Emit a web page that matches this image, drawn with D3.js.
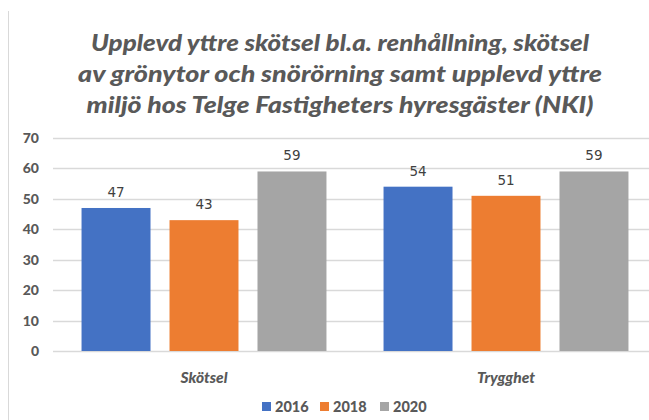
<!DOCTYPE html>
<html>
<head>
<meta charset="utf-8">
<script src="https://cdn.jsdelivr.net/npm/d3@7"></script>
<style>
  html, body { margin: 0; padding: 0; background: #fff; }
  svg { display: block; }
</style>
</head>
<body>
<div id="chart"></div>
<script>
// --- data ---
const titleLines = [
  "Upplevd yttre skötsel bl.a. renhållning, skötsel",
  "av grönytor och snörörning samt upplevd yttre",
  "miljö hos Telge Fastigheters hyresgäster (NKI)"
];
const categories = ["Skötsel", "Trygghet"];
const years = ["2016", "2018", "2020"];
const values2016 = [47, 54];
const values2018 = [43, 51];
const values2020 = [59, 59];
const yTicks = [0, 10, 20, 30, 40, 50, 60, 70];
const colors = ["#4472c4", "#ed7d31", "#a5a5a5"];

const series = [values2016, values2018, values2020];
const W = 649, H = 420;

const svg = d3.select("#chart").append("svg").attr("width", W).attr("height", H);

// thin frame line on the left edge
svg.append("line")
  .attr("x1", 8.5).attr("x2", 8.5).attr("y1", 11).attr("y2", H)
  .attr("stroke", "#d9d9d9").attr("stroke-width", 1);

// title
const title = svg.append("g")
  .attr("font-family", "Lato, 'Open Sans', sans-serif")
  .attr("font-weight", 900).attr("font-style", "italic")
  .attr("font-size", 22).attr("fill", "#595959")
  .attr("text-anchor", "middle");
const titleW = [498, 524, 507];
title.selectAll("text").data(titleLines).join("text")
  .attr("x", 340)
  .attr("y", (d, i) => 51 + i * 31)
  .attr("textLength", (d, i) => titleW[i])
  .attr("lengthAdjust", "spacingAndGlyphs")
  .text(d => d);

// scales
const y = d3.scaleLinear().domain([0, 70]).range([351, 138]);
const x0 = d3.scaleBand().domain(categories).range([53, 657]).paddingInner(0.189).paddingOuter(0.0945);
const x1 = d3.scaleBand().domain(years).range([0, x0.bandwidth()]).paddingInner(0.216);

// gridlines
svg.append("g").selectAll("line").data(yTicks).join("line")
  .attr("x1", 53).attr("x2", W)
  .attr("y1", d => Math.round(y(d)) + 0.5).attr("y2", d => Math.round(y(d)) + 0.5)
  .attr("stroke", "#d9d9d9").attr("stroke-width", 1.5);

// y axis labels
const yAxis = svg.append("g").attr("transform", "translate(39,0)")
  .call(d3.axisLeft(y).tickValues(yTicks).tickSize(0).tickPadding(0));
yAxis.select(".domain").remove();
yAxis.selectAll("text")
  .attr("font-family", "Lato, sans-serif").attr("font-weight", 900)
  .attr("font-size", 14).attr("fill", "#595959");

// bars
const groups = svg.append("g").selectAll("g").data(categories).join("g")
  .attr("transform", d => `translate(${x0(d)},0)`);

const cells = groups.selectAll("g").data((c, ci) => years.map((yr, si) => ({ yr, si, v: series[si][ci] })))
  .join("g");
cells.append("rect")
  .attr("x", d => x1(d.yr))
  .attr("y", d => y(d.v))
  .attr("width", x1.bandwidth())
  .attr("height", d => y(0) - y(d.v))
  .attr("fill", d => colors[d.si]);
cells.append("text")
  .attr("x", d => x1(d.yr) + x1.bandwidth() / 2)
  .attr("y", d => y(d.v) - 11)
  .attr("text-anchor", "middle")
  .attr("font-family", "'DejaVu Sans', sans-serif")
  .attr("font-size", 13.5).attr("fill", "#404040")
  .text(d => d.v);

// category labels
svg.append("g").selectAll("text").data(categories).join("text")
  .attr("x", d => x0(d) + x0.bandwidth() / 2)
  .attr("y", 383)
  .attr("text-anchor", "middle")
  .attr("font-family", "Lato, sans-serif").attr("font-weight", 900).attr("font-style", "italic")
  .attr("font-size", 15.5).attr("fill", "#595959")
  .text(d => d);

// legend
const lx = [262, 320, 380];
const leg = svg.append("g").selectAll("g").data(years).join("g")
  .attr("transform", (d, i) => `translate(${lx[i]},402)`);
leg.append("rect").attr("width", 9).attr("height", 9).attr("fill", (d, i) => colors[i]);
leg.append("text")
  .attr("x", 13).attr("y", 9.5)
  .attr("font-family", "Lato, sans-serif").attr("font-weight", 900)
  .attr("font-size", 14.5).attr("fill", "#595959")
  .text(d => d);
</script>
</body>
</html>
